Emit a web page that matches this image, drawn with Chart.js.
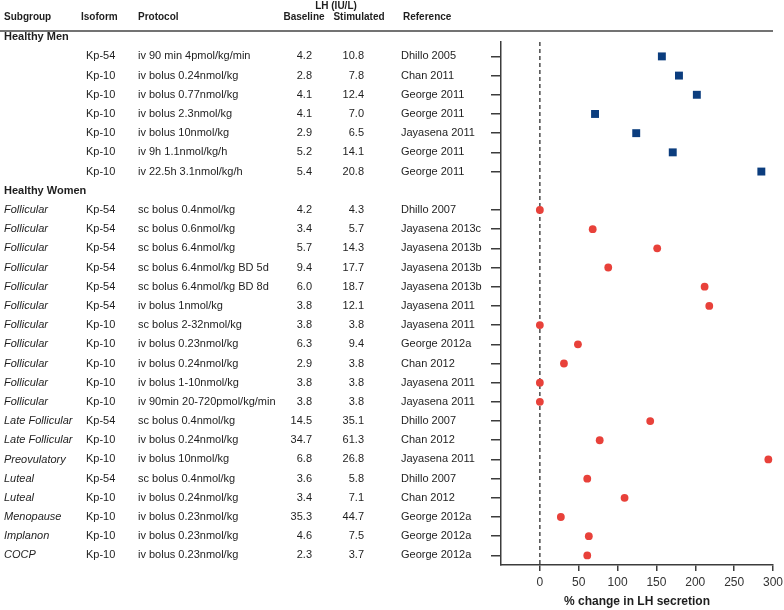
<!DOCTYPE html>
<html>
<head>
<meta charset="utf-8">
<script src="https://cdn.jsdelivr.net/npm/chart.js@4/dist/chart.umd.min.js"></script>
<style>
  html, body { margin: 0; padding: 0; background: #ffffff; }
  #wrap { width: 784px; height: 610px; }
</style>
</head>
<body>
<div id="wrap"><canvas id="c" width="784" height="610"></canvas></div>
<script>
// ---------- DATA ----------
const groupTitles = ["Healthy Men", "Healthy Women"];

const menIsoform = ["Kp-54", "Kp-10", "Kp-10", "Kp-10", "Kp-10", "Kp-10", "Kp-10"];
const menProtocol = ["iv 90 min 4pmol/kg/min", "iv bolus 0.24nmol/kg", "iv bolus 0.77nmol/kg",
  "iv bolus 2.3nmol/kg", "iv bolus 10nmol/kg", "iv 9h 1.1nmol/kg/h", "iv 22.5h 3.1nmol/kg/h"];
const menBaseline = ["4.2", "2.8", "4.1", "4.1", "2.9", "5.2", "5.4"];
const menStimulated = ["10.8", "7.8", "12.4", "7.0", "6.5", "14.1", "20.8"];
const menReference = ["Dhillo 2005", "Chan 2011", "George 2011", "George 2011",
  "Jayasena 2011", "George 2011", "George 2011"];
const menChange = [157, 179, 202, 71, 124, 171, 285];

const womenSubgroup = ["Follicular", "Follicular", "Follicular", "Follicular", "Follicular",
  "Follicular", "Follicular", "Follicular", "Follicular", "Follicular", "Follicular",
  "Late Follicular", "Late Follicular", "Preovulatory", "Luteal", "Luteal",
  "Menopause", "Implanon", "COCP"];
const womenIsoform = ["Kp-54", "Kp-54", "Kp-54", "Kp-54", "Kp-54", "Kp-54", "Kp-10", "Kp-10",
  "Kp-10", "Kp-10", "Kp-10", "Kp-54", "Kp-10", "Kp-10", "Kp-54", "Kp-10", "Kp-10", "Kp-10", "Kp-10"];
const womenProtocol = ["sc bolus 0.4nmol/kg", "sc bolus 0.6nmol/kg", "sc bolus 6.4nmol/kg",
  "sc bolus 6.4nmol/kg BD 5d", "sc bolus 6.4nmol/kg BD 8d", "iv bolus 1nmol/kg",
  "sc bolus 2-32nmol/kg", "iv bolus 0.23nmol/kg", "iv bolus 0.24nmol/kg",
  "iv bolus 1-10nmol/kg", "iv 90min 20-720pmol/kg/min", "sc bolus 0.4nmol/kg",
  "iv bolus 0.24nmol/kg", "iv bolus 10nmol/kg", "sc bolus 0.4nmol/kg",
  "iv bolus 0.24nmol/kg", "iv bolus 0.23nmol/kg", "iv bolus 0.23nmol/kg", "iv bolus 0.23nmol/kg"];
const womenBaseline = ["4.2", "3.4", "5.7", "9.4", "6.0", "3.8", "3.8", "6.3", "2.9", "3.8",
  "3.8", "14.5", "34.7", "6.8", "3.6", "3.4", "35.3", "4.6", "2.3"];
const womenStimulated = ["4.3", "5.7", "14.3", "17.7", "18.7", "12.1", "3.8", "9.4", "3.8",
  "3.8", "3.8", "35.1", "61.3", "26.8", "5.8", "7.1", "44.7", "7.5", "3.7"];
const womenReference = ["Dhillo 2007", "Jayasena 2013c", "Jayasena 2013b", "Jayasena 2013b",
  "Jayasena 2013b", "Jayasena 2011", "Jayasena 2011", "George 2012a", "Chan 2012",
  "Jayasena 2011", "Jayasena 2011", "Dhillo 2007", "Chan 2012", "Jayasena 2011",
  "Dhillo 2007", "Chan 2012", "George 2012a", "George 2012a", "George 2012a"];
const womenChange = [0, 68, 151, 88, 212, 218, 0, 49, 31, 0, 0, 142, 77, 294, 61, 109, 27, 63, 61];

const xTickValues = [0, 50, 100, 150, 200, 250, 300];
const xAxisTitle = "% change in LH secretion";
const columnHeaders = ["Subgroup", "Isoform", "Protocol", "Baseline", "Stimulated", "Reference"];
const lhHeader = "LH (IU/L)";

// ---------- ROW LAYOUT (row index on y scale) ----------
const menGroupRow = 0;
const menRows = menChange.map((_, i) => menGroupRow + 1 + i);
const womenGroupRow = menRows[menRows.length - 1] + 1;
const womenRows = womenChange.map((_, i) => womenGroupRow + 1 + i);
const allTickRows = menRows.concat(womenRows);

const FONT = '"Liberation Sans", Arial, Helvetica, sans-serif';
const TEXT = '#1e1e1e';
const AXIS = '#3c3c3c';

const tablePlugin = {
  id: 'tablePlugin',
  beforeDatasetsDraw(chart) {
    const ctx = chart.ctx;
    const x = chart.scales.x;
    const area = chart.chartArea;
    ctx.save();
    const x0 = x.getPixelForValue(0);
    ctx.strokeStyle = '#4a4a4a';
    ctx.lineWidth = 1.5;
    ctx.setLineDash([4, 3]);
    ctx.beginPath();
    ctx.moveTo(x0, area.top);
    ctx.lineTo(x0, area.bottom);
    ctx.stroke();
    ctx.setLineDash([]);
    ctx.restore();
  },
  afterDraw(chart) {
    const ctx = chart.ctx;
    const y = chart.scales.y;
    const area = chart.chartArea;
    ctx.save();
    ctx.strokeStyle = '#444444';
    ctx.lineWidth = 1.5;
    ctx.beginPath();
    ctx.moveTo(0, 31);
    ctx.lineTo(area.right, 31);
    ctx.stroke();

    ctx.fillStyle = TEXT;
    ctx.textBaseline = 'middle';
    ctx.font = 'bold 10px ' + FONT;
    ctx.textAlign = 'left';
    ctx.fillText(columnHeaders[0], 4, 17);
    ctx.fillText(columnHeaders[1], 81, 17);
    ctx.fillText(columnHeaders[2], 138, 17);
    ctx.textAlign = 'center';
    ctx.fillText(columnHeaders[3], 304, 17);
    ctx.fillText(columnHeaders[4], 359, 17);
    ctx.fillText(lhHeader, 336, 6);
    ctx.textAlign = 'left';
    ctx.fillText(columnHeaders[5], 403, 17);

    ctx.font = 'bold 11px ' + FONT;
    ctx.fillText(groupTitles[0], 4, y.getPixelForValue(menGroupRow));
    ctx.fillText(groupTitles[1], 4, y.getPixelForValue(womenGroupRow));

    function drawRow(py, sub, iso, prot, base, stim, ref) {
      ctx.textAlign = 'left';
      if (sub) {
        ctx.font = 'italic 11px ' + FONT;
        ctx.fillText(sub, 4, py);
      }
      ctx.font = '11px ' + FONT;
      ctx.fillText(iso, 86, py);
      ctx.fillText(prot, 138, py);
      ctx.textAlign = 'right';
      ctx.fillText(base, 312, py);
      ctx.fillText(stim, 364, py);
      ctx.textAlign = 'left';
      ctx.fillText(ref, 401, py);
    }
    menRows.forEach((r, i) => drawRow(y.getPixelForValue(r), null, menIsoform[i], menProtocol[i],
      menBaseline[i], menStimulated[i], menReference[i]));
    womenRows.forEach((r, i) => drawRow(y.getPixelForValue(r), womenSubgroup[i], womenIsoform[i],
      womenProtocol[i], womenBaseline[i], womenStimulated[i], womenReference[i]));
    ctx.restore();
  }
};

new Chart(document.getElementById('c'), {
  type: 'scatter',
  data: {
    datasets: [
      {
        label: 'Healthy Men',
        data: menChange.map((v, i) => ({ x: v, y: menRows[i] })),
        pointStyle: 'rect',
        pointRadius: 5.6,
        pointHoverRadius: 5.6,
        backgroundColor: '#0b3d7e',
        borderWidth: 0
      },
      {
        label: 'Healthy Women',
        data: womenChange.map((v, i) => ({ x: v, y: womenRows[i] })),
        pointStyle: 'circle',
        pointRadius: 3.9,
        pointHoverRadius: 3.9,
        backgroundColor: '#e8413a',
        borderWidth: 0
      }
    ]
  },
  options: {
    responsive: false,
    animation: false,
    events: [],
    layout: { padding: { left: 491, right: 11, top: 42, bottom: 0 } },
    plugins: { legend: { display: false }, tooltip: { enabled: false } },
    scales: {
      x: {
        type: 'linear',
        min: -50,
        max: 300,
        afterBuildTicks: (s) => { s.ticks = xTickValues.map(v => ({ value: v })); },
        afterFit: (s) => { s.height = 45; s.paddingRight = 0; s.paddingLeft = 0; },
        border: { display: true, color: AXIS, width: 1.5 },
        grid: { drawOnChartArea: false, drawTicks: true, tickLength: 6, color: AXIS, lineWidth: 1.5 },
        ticks: { color: '#333333', font: { family: FONT, size: 12 }, padding: 4, maxRotation: 0 },
        title: { display: true, text: xAxisTitle, color: TEXT, font: { family: FONT, size: 12, weight: 'bold' }, padding: { top: 2, bottom: 1 } }
      },
      y: {
        type: 'linear',
        reverse: true,
        min: 0.25,
        max: 27.5,
        afterBuildTicks: (s) => { s.ticks = allTickRows.map(v => ({ value: v })); },
        afterFit: (s) => { s.width = 10; s.paddingTop = 0; s.paddingBottom = 0; },
        border: { display: true, color: AXIS, width: 1.5 },
        grid: { drawOnChartArea: false, drawTicks: true, tickLength: 10, color: AXIS, lineWidth: 1.5 },
        ticks: { display: false }
      }
    }
  },
  plugins: [tablePlugin]
});
</script>
</body>
</html>
